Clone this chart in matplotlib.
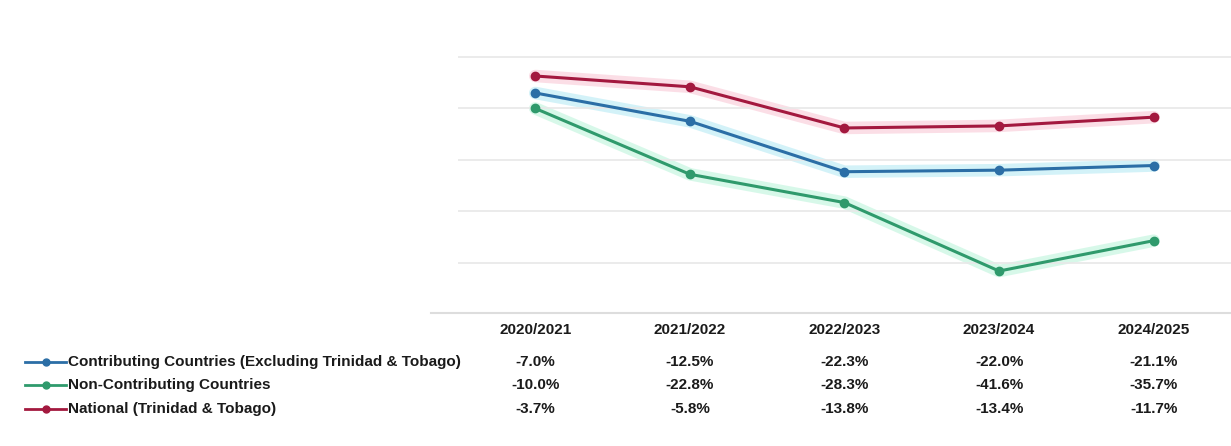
import matplotlib.pyplot as plt
from matplotlib.lines import Line2D
from matplotlib.transforms import blended_transform_factory

# ---- data ----
years = ["2020/2021", "2021/2022", "2022/2023", "2023/2024", "2024/2025"]
series_names = [
    "Contributing Countries (Excluding Trinidad & Tobago)",
    "Non-Contributing Countries",
    "National (Trinidad & Tobago)",
]
contributing = [-7.0, -12.5, -22.3, -22.0, -21.1]
non_contributing = [-10.0, -22.8, -28.3, -41.6, -35.7]
national = [-3.7, -5.8, -13.8, -13.4, -11.7]
colors = ["#2b6ea6", "#2f9a6c", "#a3193f"]
glows = ["#9fe3f0", "#a8f0d0", "#f7b6c8"]

all_series = [contributing, non_contributing, national]

plt.rcParams["font.family"] = ["Liberation Sans", "DejaVu Sans"]

fig = plt.figure(figsize=(12.31, 4.46), dpi=100)
ax = fig.add_axes([0.372, 0.33, 0.628, 0.60])

x = list(range(len(years)))
for vals, c, g in zip(all_series, colors, glows):
    # soft halo under each line, like the reference
    ax.plot(x, vals, color=g, linewidth=9, alpha=0.45, solid_capstyle="round", zorder=1)
    ax.plot(x, vals, color=c, linewidth=2.2, marker="o", markersize=6, zorder=3)

ax.set_xlim(-0.5, 4.5)
ax.set_ylim(-47, 5)
ax.set_yticks([0, -10, -20, -30, -40])
ax.grid(axis="y", color="#e8e8e8", linewidth=1.2)
ax.tick_params(left=False, bottom=False, labelleft=False, labelbottom=False)
for s in ax.spines.values():
    s.set_visible(False)

# ---- data table under the chart ----
trans = blended_transform_factory(ax.transData, fig.transFigure)
header_y = 1 - 330 / 446
row_ys = [1 - 362 / 446, 1 - 385 / 446, 1 - 409 / 446]

fig.add_artist(Line2D([0.35, 1.0], [1 - 313 / 446] * 2, color="#dddddd", linewidth=1.5))

for i, yr in enumerate(years):
    fig.text(i, header_y, yr, transform=trans, ha="center", va="center",
             fontsize=11, fontweight="bold", color="#1a1a1a")

for vals, ry in zip(all_series, row_ys):
    for i, v in enumerate(vals):
        fig.text(i, ry, f"{v:.1f}%", transform=trans, ha="center", va="center",
                 fontsize=11, fontweight="bold", color="#1a1a1a")

# legend glyphs + labels
for name, c, ry in zip(series_names, colors, row_ys):
    fig.add_artist(Line2D([25 / 1231, 66 / 1231], [ry, ry], color=c, linewidth=2))
    fig.add_artist(Line2D([46 / 1231], [ry], color=c, marker="o", markersize=5))
    fig.text(68 / 1231, ry, name, ha="left", va="center", fontsize=11,
             fontweight="bold", color="#1a1a1a")

fig.savefig("out.png", dpi=100)
